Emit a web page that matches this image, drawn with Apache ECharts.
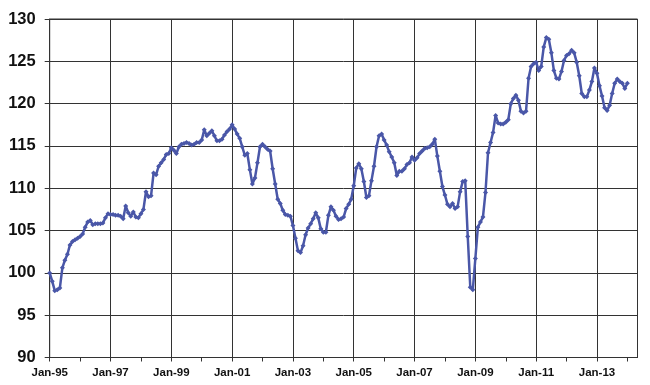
<!DOCTYPE html>
<html>
<head>
<meta charset="utf-8">
<script src="https://cdn.jsdelivr.net/npm/echarts@6/dist/echarts.min.js"></script>
<style>
html,body{margin:0;padding:0;background:#fff;}
#chart{width:650px;height:385px;}
</style>
</head>
<body>
<div id="chart"></div>
<script>
// Monthly index values, Jan-95 .. Jan-14
var v1995 = [100.0, 99.0, 97.9, 98.0, 98.2, 100.6, 101.5, 102.2, 103.3, 103.7, 103.9, 104.1];
var v1996 = [104.3, 104.6, 105.4, 106.0, 106.2, 105.7, 105.8, 105.8, 105.8, 105.9, 106.5, 107.0];
var v1997 = [106.9, 106.9, 106.8, 106.8, 106.7, 106.4, 107.9, 107.1, 106.7, 107.2, 106.6, 106.5];
var v1998 = [107.0, 107.5, 109.6, 109.0, 109.1, 111.8, 111.6, 112.6, 113.0, 113.4, 114.0, 114.1];
var v1999 = [114.8, 114.5, 114.1, 114.9, 115.2, 115.3, 115.4, 115.3, 115.1, 115.2, 115.4, 115.4];
var v2000 = [115.7, 116.9, 116.2, 116.5, 116.8, 116.2, 115.6, 115.6, 115.8, 116.3, 116.7, 117.0];
var v2001 = [117.5, 117.0, 116.4, 115.9, 114.9, 113.9, 114.1, 112.2, 110.5, 111.2, 113.0, 114.9];
var v2002 = [115.2, 114.9, 114.6, 114.4, 112.3, 110.5, 108.7, 108.2, 107.4, 106.9, 106.8, 106.7];
var v2003 = [105.6, 104.1, 102.6, 102.4, 103.2, 104.5, 105.3, 105.8, 106.4, 107.1, 106.5, 105.2];
var v2004 = [104.8, 104.8, 106.8, 107.8, 107.4, 106.7, 106.3, 106.4, 106.6, 107.6, 108.1, 108.7];
var v2005 = [110.3, 112.4, 112.9, 112.3, 110.8, 108.9, 109.1, 110.9, 112.6, 114.9, 116.2, 116.4];
var v2006 = [115.7, 115.1, 114.3, 113.7, 113.0, 111.5, 112.0, 112.0, 112.3, 112.8, 113.0, 113.7];
var v2007 = [113.3, 113.6, 114.1, 114.4, 114.7, 114.8, 114.9, 115.2, 115.8, 113.8, 112.0, 110.2];
var v2008 = [109.2, 108.1, 107.8, 108.2, 107.6, 107.8, 109.6, 110.8, 110.9, 104.3, 98.3, 98.0];
var v2009 = [101.7, 105.4, 106.0, 106.6, 109.5, 114.2, 115.4, 116.6, 118.6, 117.7, 117.6, 117.6];
var v2010 = [117.8, 118.1, 120.0, 120.6, 121.0, 120.4, 119.1, 118.9, 119.1, 123.0, 124.4, 124.7];
var v2011 = [124.9, 123.9, 124.4, 126.7, 127.8, 127.6, 126.0, 123.9, 123.0, 122.9, 123.8, 125.1];
var v2012 = [125.7, 125.9, 126.3, 126.0, 124.9, 123.3, 121.2, 120.8, 120.8, 121.6, 122.6, 124.2];
var v2013 = [123.6, 122.1, 120.9, 119.5, 119.2, 119.8, 121.2, 122.4, 122.9, 122.6, 122.4, 121.8];
var v2014 = [122.4];

var tickLabels = ['Jan-95','Jan-97','Jan-99','Jan-01','Jan-03','Jan-05','Jan-07','Jan-09','Jan-11','Jan-13'];
var monthNames = ['Jan','Feb','Mar','Apr','May','Jun','Jul','Aug','Sep','Oct','Nov','Dec'];
var firstYear = 1995;
var axisMonths = 233; // Jan-95 .. May-14 (axis extent)

var values = [].concat(v1995, v1996, v1997, v1998, v1999, v2000, v2001, v2002, v2003,
  v2004, v2005, v2006, v2007, v2008, v2009, v2010, v2011, v2012, v2013, v2014);

var categories = [];
for (var m = 0; m < axisMonths; m++) {
  var yr = (firstYear + Math.floor(m / 12)) % 100;
  categories.push(monthNames[m % 12] + '-' + (yr < 10 ? '0' + yr : '' + yr));
}

function isLabel(i) { return tickLabels.indexOf(categories[i]) >= 0; }

var chart = echarts.init(document.getElementById('chart'), null, {renderer: 'canvas'});
var font = "'Liberation Sans', Arial, sans-serif";
chart.setOption({
  animation: false,
  backgroundColor: '#ffffff',
  grid: {
    left: 49.7, right: 12.5, top: 19, bottom: 27.5,
    show: true, borderColor: '#333', borderWidth: 1
  },
  xAxis: {
    type: 'category',
    boundaryGap: false,
    data: categories,
    axisLine: {show: true, lineStyle: {color: '#333', width: 1}},
    axisTick: {show: true, length: 4, interval: function (i) { return i % 12 === 0; },
      lineStyle: {color: '#333'}},
    axisLabel: {
      interval: isLabel,
      color: '#111', fontFamily: font, fontWeight: 'bold', fontSize: 11.5, margin: 9
    },
    splitLine: {show: true, interval: isLabel, lineStyle: {color: '#333', width: 1}}
  },
  yAxis: {
    type: 'value',
    min: 90, max: 130, interval: 5,
    axisLine: {show: true, lineStyle: {color: '#333', width: 1}},
    axisTick: {show: true, length: 5, lineStyle: {color: '#333'}},
    axisLabel: {color: '#111', fontFamily: font, fontWeight: 'bold', fontSize: 16.5, margin: 14},
    splitLine: {show: true, lineStyle: {color: '#333', width: 1}}
  },
  series: [{
    type: 'line',
    data: values,
    symbol: 'diamond',
    symbolSize: 5,
    showAllSymbol: true,
    lineStyle: {color: '#4a57a8', width: 2.5},
    itemStyle: {color: '#4a57a8'},
    z: 5
  }]
});
</script>
</body>
</html>
